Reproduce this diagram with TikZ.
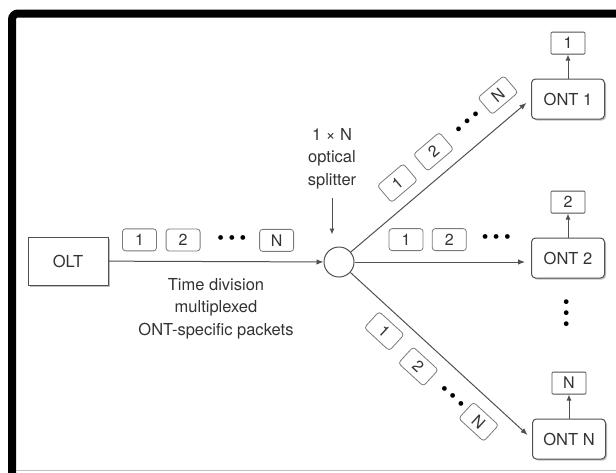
\documentclass[tikz,border=0pt]{standalone}
\usepackage{fontspec}
\setmainfont{TeX Gyre Heros}
\usetikzlibrary{arrows.meta,calc,positioning,shadows}
\definecolor{fibergray}{HTML}{505050}
\definecolor{textgray}{HTML}{333333}
\definecolor{packetgray}{HTML}{7A7A7A}
\tikzset{
  fiber/.style={-{Latex[length=7pt,width=5.5pt]},line width=1pt,fibergray},
  branch/.style={fiber,shorten >=6pt},
  uparrow/.style={-{Latex[length=6pt,width=5pt]},line width=1pt,fibergray},
  unitbox/.style={draw=fibergray,line width=1pt,fill=white,minimum width=80pt,minimum height=48pt,
    drop shadow={shadow xshift=1.5pt,shadow yshift=-1.5pt,fill=black!50},text=textgray,font=\fontsize{16.5}{20}\selectfont},
  ontbox/.style={unitbox,rounded corners=4pt,minimum width=73pt,minimum height=40pt},
  packet/.style={draw=packetgray,line width=0.8pt,fill=white,rounded corners=3pt,minimum width=34pt,
    minimum height=22pt,inner sep=0pt,text=textgray,font=\fontsize{16}{18}\selectfont},
  outbox/.style={packet,rounded corners=1pt,draw=fibergray},
  dotrow/.style={inner sep=0pt,text=black,font=\fontsize{19}{20}\selectfont},
  note/.style={align=center,inner sep=2pt,text=textgray,font=\fontsize{16.5}{22.5}\selectfont}
}
\newcommand{\threedots}{\textbullet\hspace{4.5pt}\textbullet\hspace{4.5pt}\textbullet}

\begin{document}
\begin{tikzpicture}[x=1pt,y=-1pt]
  \useasboundingbox (0,0) rectangle (616,472);
  \clip (0,0) rectangle (616,472);
  % frame
  \draw[line width=8pt,rounded corners=6pt] (12,500) |- (640,13.5);
  \draw[black!25,line width=0.8pt] (16,470) -- (616,470);

  % units
  \node[unitbox] (olt) at (68,261) {OLT};
  \node[circle,draw=fibergray,line width=1pt,fill=white,minimum size=30pt,inner sep=0pt] (splitter) at (339,262) {};
  \node[ontbox] (ont1) at (568,99) {ONT 1};
  \node[ontbox] (ont2) at (568,258) {ONT 2};
  \node[ontbox] (ontN) at (569,439) {ONT N};
  \node[outbox,above=24pt of ont1] (out1) {1};
  \node[outbox,above=24pt of ont2] (out2) {2};
  \node[outbox,above=24pt of ontN] (outN) {N};
  \node[dotrow,rotate=90] (vdots) at ($(ont2.south)!0.37!(outN.north)$) {\threedots};

  % labels
  \node[note,above=55.5pt of splitter,xshift=-7pt] (spltext) {1 × N\\optical\\splitter};
  \node[note,below=14.6pt] (tdm) at ($(olt.east)!0.5!(splitter.west)$) {Time division\\multiplexed\\ONT-specific packets};
  \draw[uparrow,shorten <=7pt,shorten >=12pt] (spltext.south) -- (spltext.south |- splitter.north);

  % feeder
  \draw[fiber] (olt) -- (splitter)
    node[packet,pos=0.144,above=10pt] (f1) {1}
    node[packet,pos=0.347,above=10pt] (f2) {2}
    node[dotrow,pos=0.574,above=17pt] (fd) {\threedots}
    node[packet,pos=0.782,above=10pt] (fN) {N};

  % branches
  \draw[branch] (splitter) -- (ont1.west)
    node[packet,sloped,pos=0.339,above=11pt] (a1) {1}
    node[packet,sloped,pos=0.541,above=11.5pt] (a2) {2}
    node[dotrow,sloped,pos=0.732,above=16.8pt] (ad) {\threedots}
    node[packet,sloped,pos=0.904,above=13pt] (aN) {N};
  \draw[branch] (splitter) -- (splitter -| ont2.west)
    node[packet,pos=0.292,above=11pt] (b1) {1}
    node[packet,pos=0.537,above=11pt] (b2) {2}
    node[dotrow,pos=0.803,above=18pt] (bd) {\threedots};
  \draw[branch] (splitter) -- (ontN.west)
    node[packet,sloped,pos=0.262,below=9pt] (c1) {1}
    node[packet,sloped,pos=0.461,below=12pt] (c2) {2}
    node[dotrow,sloped,pos=0.645,below=19pt] (cd) {\threedots}
    node[packet,sloped,pos=0.793,below=12pt] (cN) {N};

  % delivered packets
  \draw[uparrow] (ont1) -- (out1);
  \draw[uparrow] (ont2) -- (out2);
  \draw[uparrow] (ontN) -- (outN);
\end{tikzpicture}
\end{document}
